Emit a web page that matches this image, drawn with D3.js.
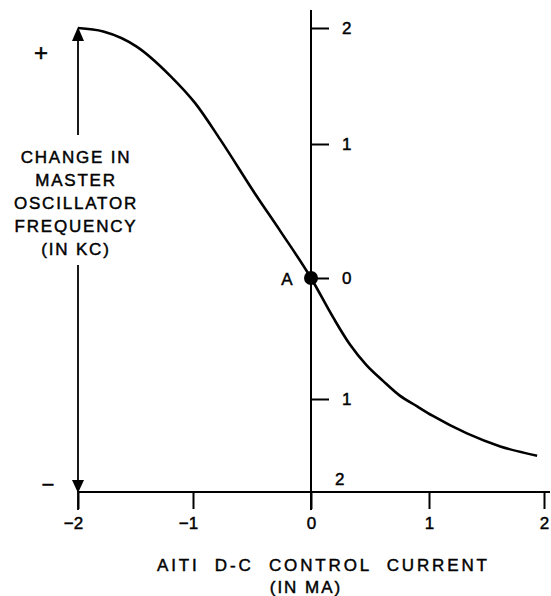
<!DOCTYPE html>
<html>
<head>
<meta charset="utf-8">
<script src="https://cdn.jsdelivr.net/npm/d3@7"></script>
<style>
  html, body { margin: 0; padding: 0; background: #fff; }
  svg { display: block; }
  text { font-family: "Liberation Sans", Arial, sans-serif; fill: #000; stroke: #000; stroke-width: 0.45px; }
</style>
</head>
<body>
<svg id="chart" width="551" height="596"></svg>
<script>
// ---- data ----
const xTicks = [-2, -1, 0, 1, 2];
const xTickLabels = ["\u22122", "\u22121", "0", "1", "2"];
const yTicks = [2, 1, 0, -1, -2];
const yTickLabels = ["2", "1", "0", "1", "2"];
const curveX = [-2.00, -1.78, -1.49, -1.20, -0.98, -0.77, -0.46, -0.26, 0.00, 0.19, 0.33, 0.47, 0.61, 0.75, 0.90, 1.03, 1.33, 1.62, 1.94];
const curveY = [ 2.00,  1.97,  1.84,  1.59,  1.35,  1.04,  0.61,  0.35, 0.00, -0.33, -0.55, -0.72, -0.85, -0.97, -1.08, -1.18, -1.37, -1.51, -1.61];
const pointName = ["A"];
const pointX = [0];
const pointY = [0];
const yTitleLines = ["CHANGE IN", "MASTER", "OSCILLATOR", "FREQUENCY", "(IN KC)"];
const xTitleLines = ["AITI  D-C  CONTROL  CURRENT", "(IN MA)"];
const signLabels = ["+", "\u2212"];

// ---- scales (hand-drawn original: piecewise-linear tick spacing) ----
const x = d3.scaleLinear().domain([-2, -1, 0, 1, 2]).range([78, 193, 311, 429, 544]);
const y = d3.scaleLinear().domain([-2, -1, 0, 1, 2]).range([492, 399, 278, 144, 28]);

const svg = d3.select("#chart");

// x axis line
svg.append("line")
  .attr("x1", x(-2)).attr("x2", 550)
  .attr("y1", y(-2)).attr("y2", y(-2))
  .attr("stroke", "#000").attr("stroke-width", 2);

// x axis ticks + labels
const xAxis = d3.axisBottom(x).tickValues(xTicks).tickSize(17).tickPadding(8)
  .tickFormat((d, i) => xTickLabels[i]);
const gx = svg.append("g").attr("transform", `translate(0,${y(-2)})`).call(xAxis);
gx.select(".domain").remove();
gx.selectAll(".tick line").attr("stroke", "#000").attr("stroke-width", 2);
gx.selectAll(".tick text")
  .attr("font-size", 17).attr("font-family", "Liberation Sans, Arial, sans-serif")
  .attr("fill", "#000")
  .attr("dx", d => d < 0 ? -5 : 0);

// y axis (vertical line at x = 0)
svg.append("line")
  .attr("x1", x(0)).attr("x2", x(0))
  .attr("y1", 10).attr("y2", 510)
  .attr("stroke", "#000").attr("stroke-width", 2);

const yAxis = d3.axisRight(y).tickValues(yTicks).tickSize(18).tickPadding(13)
  .tickFormat((d, i) => yTickLabels[i]);
const gy = svg.append("g").attr("transform", `translate(${x(0)},0)`).call(yAxis);
gy.select(".domain").remove();
gy.selectAll(".tick line").attr("stroke", "#000").attr("stroke-width", 2)
  .attr("display", d => d === -2 ? "none" : null);
gy.selectAll(".tick text")
  .attr("font-size", 17).attr("font-family", "Liberation Sans, Arial, sans-serif")
  .attr("fill", "#000")
  .attr("dx", d => d === -2 ? -7 : 0)
  .attr("dy", d => d === -2 ? "-0.42em" : "0.35em");

// left double-headed arrow at x = -2
svg.append("line")
  .attr("x1", x(-2)).attr("x2", x(-2)).attr("y1", y(2) + 6).attr("y2", 135)
  .attr("stroke", "#000").attr("stroke-width", 1.8);
svg.append("line")
  .attr("x1", x(-2)).attr("x2", x(-2)).attr("y1", 265).attr("y2", 510)
  .attr("stroke", "#000").attr("stroke-width", 1.8);
svg.append("path")
  .attr("d", `M${x(-2)},${y(2) - 1} L${x(-2) - 6},${y(2) + 13} L${x(-2) + 6},${y(2) + 13} Z`)
  .attr("fill", "#000");
svg.append("path")
  .attr("d", `M${x(-2)},${y(-2) + 1} L${x(-2) - 6},${y(-2) - 12} L${x(-2) + 6},${y(-2) - 12} Z`)
  .attr("fill", "#000");

// + and − signs
svg.append("text").text(signLabels[0])
  .attr("x", 41).attr("y", 53).attr("text-anchor", "middle").attr("dy", "0.35em")
  .attr("font-size", 24);
svg.append("text").text(signLabels[1])
  .attr("x", 48).attr("y", 484).attr("text-anchor", "middle").attr("dy", "0.35em")
  .attr("font-size", 22);

// y title
svg.append("g").selectAll("text").data(yTitleLines).join("text")
  .text(d => d)
  .attr("x", 76).attr("y", (d, i) => 157 + i * 23)
  .attr("dy", "0.36em")
  .attr("text-anchor", "middle")
  .attr("font-size", 17)
  .attr("letter-spacing", 1.8);

// x title
svg.append("text").text(xTitleLines[0])
  .attr("x", 157).attr("y", 565).attr("dy", "0.36em")
  .attr("font-size", 17)
  .attr("textLength", 330).attr("lengthAdjust", "spacing")
  .style("white-space", "pre");
svg.append("text").text(xTitleLines[1])
  .attr("x", 306).attr("y", 587).attr("dy", "0.36em")
  .attr("text-anchor", "middle")
  .attr("font-size", 17).attr("letter-spacing", 2);

// curve
const line = d3.line().x(d => x(d[0])).y(d => y(d[1])).curve(d3.curveMonotoneX);
svg.append("path")
  .datum(curveX.map((v, i) => [v, curveY[i]]))
  .attr("d", line)
  .attr("fill", "none").attr("stroke", "#000").attr("stroke-width", 2.6);

// point A
svg.selectAll("circle.pt").data(pointX).join("circle")
  .attr("class", "pt")
  .attr("cx", (d, i) => x(pointX[i])).attr("cy", (d, i) => y(pointY[i]))
  .attr("r", 7).attr("fill", "#000");
svg.selectAll("text.pt").data(pointName).join("text")
  .attr("class", "pt")
  .text(d => d)
  .attr("x", (d, i) => x(pointX[i]) - 24).attr("y", (d, i) => y(pointY[i]) + 1)
  .attr("dy", "0.36em").attr("text-anchor", "middle")
  .attr("font-size", 17);
</script>
</body>
</html>
